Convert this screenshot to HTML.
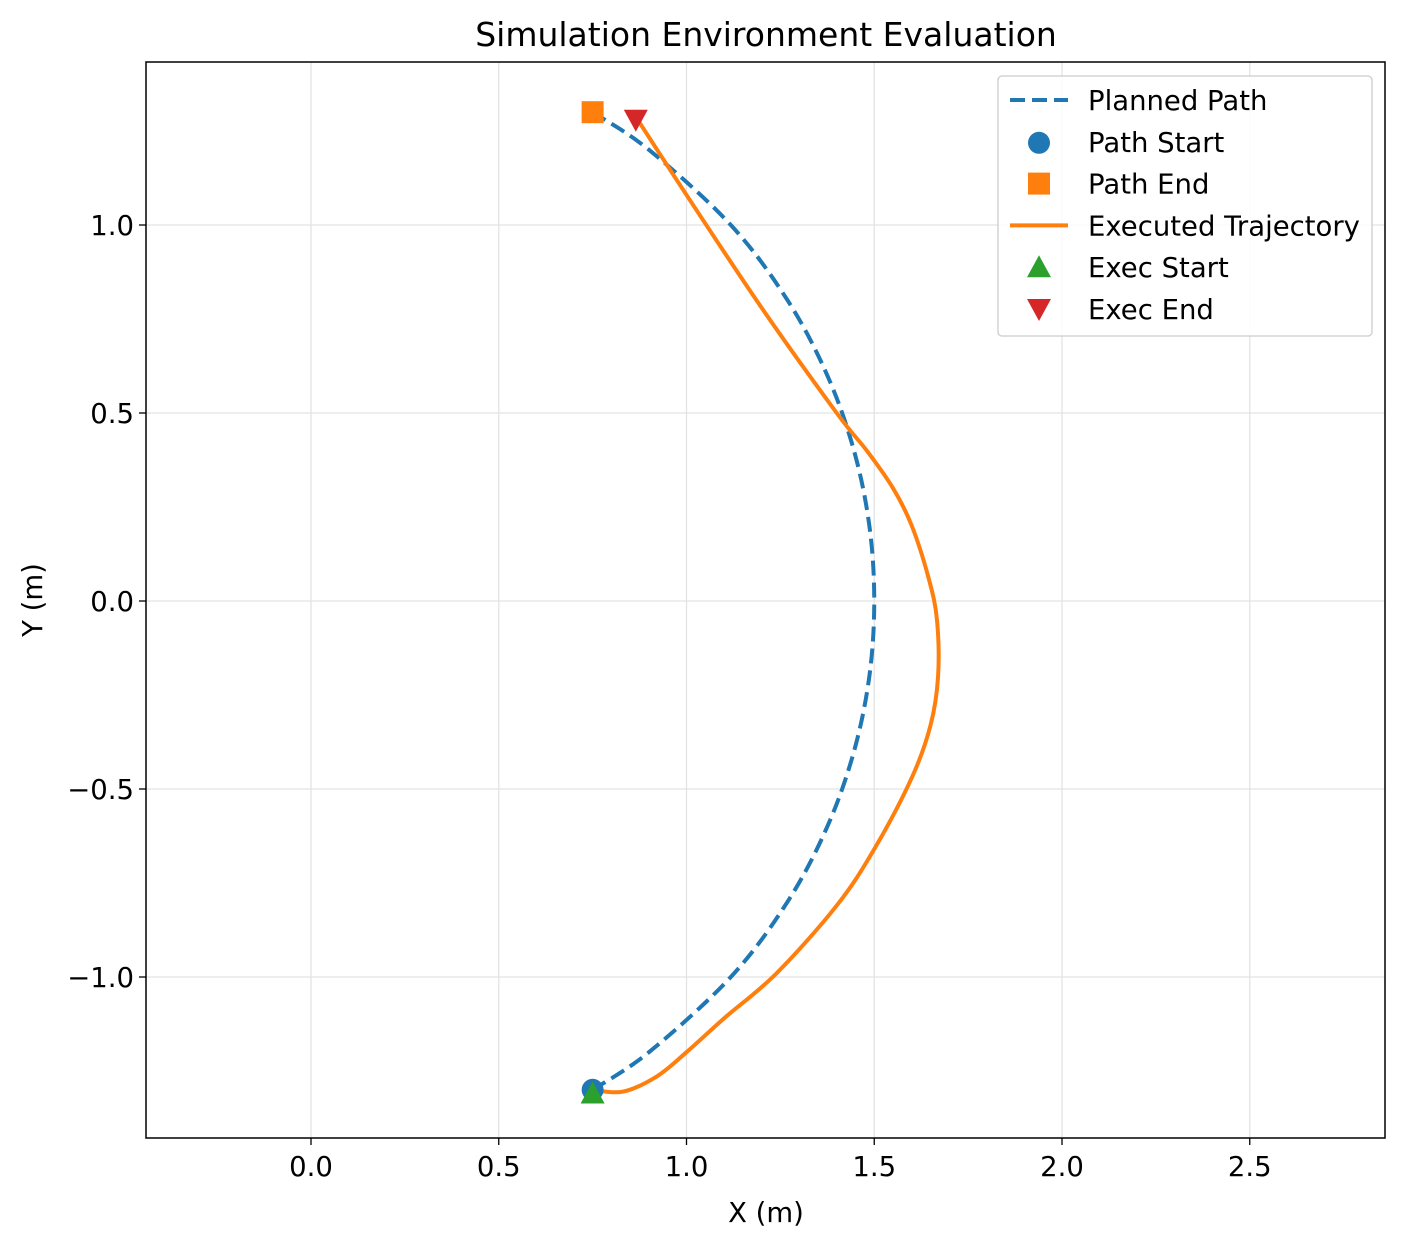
<!DOCTYPE html>
<html><head><meta charset="utf-8"><style>
body{margin:0;background:#fff;}
svg text{font-family:"DejaVu Sans","Liberation Sans",sans-serif;}
</style></head><body>
<svg id="chart" width="1406" height="1247" xmlns="http://www.w3.org/2000/svg"></svg>
<script>
const xTicks=[0,0.5,1.0,1.5,2.0,2.5];
const xTickLabels=["0.0","0.5","1.0","1.5","2.0","2.5"];
const yTicks=[1.0,0.5,0.0,-0.5,-1.0];
const yTickLabels=["1.0","0.5","0.0","\u22120.5","\u22121.0"];
const plannedX=[0.75,0.9,1.118,1.269,1.375,1.446,1.487,1.5,1.487,1.446,1.375,1.269,1.118,0.9,0.75];
const plannedY=[-1.3,-1.2,-1.0,-0.8,-0.6,-0.4,-0.2,0,0.2,0.4,0.6,0.8,1.0,1.2,1.3];
const execX=[0.75,0.83,0.92,1.0,1.1,1.24,1.4,1.5,1.6,1.65,1.67,1.667,1.645,1.6,1.55,1.48,1.4,1.2,1.0,0.87];
const execY=[-1.3,-1.305,-1.265,-1.2,-1.11,-0.99,-0.81,-0.66,-0.47,-0.33,-0.2,-0.05,0.06,0.2,0.3,0.4,0.5,0.78,1.08,1.28];
const pathStart=[0.75,-1.3], pathEnd=[0.75,1.3], execStart=[0.75,-1.31], execEnd=[0.865,1.28];

const L=146,R=1385,T=62,B=1138;
const sx=v=>311+v*375.5, sy=v=>601-v*376;
const svg=document.getElementById('chart');
const NS="http://www.w3.org/2000/svg";
function mk(tag,attrs,name,parent){const e=document.createElementNS(NS,tag);for(const k in attrs)e.setAttribute(k,attrs[k]);


(parent||svg).appendChild(e);return e;}
function txt(s,attrs,name){attrs['font-family']='DejaVu Sans, Liberation Sans, sans-serif';const e=mk('text',attrs,name);e.textContent=s;return e;}
function spline(xs,ys){const p=xs.map((v,i)=>[sx(v),sy(ys[i])]);let d='M'+p[0][0]+' '+p[0][1];
for(let i=0;i<p.length-1;i++){const p0=p[Math.max(0,i-1)],p1=p[i],p2=p[i+1],p3=p[Math.min(p.length-1,i+2)];
d+=` C${p1[0]+(p2[0]-p0[0])/6} ${p1[1]+(p2[1]-p0[1])/6} ${p2[0]-(p3[0]-p1[0])/6} ${p2[1]-(p3[1]-p1[1])/6} ${p2[0]} ${p2[1]}`;}return d;}

txt("Simulation Environment Evaluation",{x:766,y:46,'font-size':33,'text-anchor':'middle'},'chart-title');
xTicks.forEach((v,i)=>{const x=sx(v);
mk('line',{x1:x,x2:x,y1:T,y2:B,stroke:'#e3e3e3','stroke-width':1.3},'x-gridline');
mk('line',{x1:x,x2:x,y1:B,y2:B+7,stroke:'#000','stroke-width':1.3},'x-tick');
txt(xTickLabels[i],{x:x,y:B+38,'font-size':27.5,'text-anchor':'middle'},'x-tick-label');});
yTicks.forEach((v,i)=>{const y=sy(v);
mk('line',{x1:L,x2:R,y1:y,y2:y,stroke:'#e3e3e3','stroke-width':1.3},'y-gridline');
mk('line',{x1:L-7,x2:L,y1:y,y2:y,stroke:'#000','stroke-width':1.3},'y-tick');
txt(yTickLabels[i],{x:L-12,y:y+10,'font-size':27.5,'text-anchor':'end'},'y-tick-label');});
txt("X (m)",{x:766,y:1222,'font-size':27.5,'text-anchor':'middle'},'x-axis-title');
txt("Y (m)",{x:42,y:600,'font-size':27.5,'text-anchor':'middle',transform:'rotate(-90 42 600)'},'y-axis-title');

mk('path',{d:spline(plannedX,plannedY),fill:'none',stroke:'#1f77b4','stroke-width':4,'stroke-dasharray':'15 7'},'planned-path-line');
mk('path',{d:spline(execX,execY),fill:'none',stroke:'#ff7f0e','stroke-width':4,'stroke-linejoin':'round'},'executed-trajectory-line');

function circ(x,y,n){mk('circle',{cx:x,cy:y,r:11,fill:'#1f77b4'},n);}
function sq(x,y,n){mk('rect',{x:x-11,y:y-11,width:22,height:22,fill:'#ff7f0e'},n);}
function up(x,y,n){mk('polygon',{points:`${x},${y-12} ${x+12},${y+10} ${x-12},${y+10}`,fill:'#2ca02c'},n);}
function dn(x,y,n){mk('polygon',{points:`${x},${y+12} ${x+12},${y-10} ${x-12},${y-10}`,fill:'#d62728'},n);}
circ(sx(pathStart[0]),sy(pathStart[1]),'path-start-marker');
sq(sx(pathEnd[0]),sy(pathEnd[1]),'path-end-marker');
up(sx(execStart[0]),sy(execStart[1]),'exec-start-marker');
dn(sx(execEnd[0]),sy(execEnd[1]),'exec-end-marker');

mk('rect',{x:L,y:T,width:R-L,height:B-T,fill:'none',stroke:'#000','stroke-width':1.5},'plot-frame');

mk('rect',{x:998,y:76,width:374,height:260,rx:4,fill:'#fff','fill-opacity':0.85,stroke:'#ccc','stroke-width':1.3},'legend-box');
const items=["Planned Path","Path Start","Path End","Executed Trajectory","Exec Start","Exec End"];
items.forEach((s,i)=>{const y=100+i*41.8;
if(i==0)mk('line',{x1:1010,x2:1068,y1:y,y2:y,stroke:'#1f77b4','stroke-width':4,'stroke-dasharray':'15 7'},'legend-symbol');
if(i==1)circ(1039,y+1,'legend-symbol');
if(i==2)sq(1039,y,'legend-symbol');
if(i==3)mk('line',{x1:1010,x2:1068,y1:y,y2:y,stroke:'#ff7f0e','stroke-width':4},'legend-symbol');
if(i==4)up(1039,y,'legend-symbol');
if(i==5)dn(1039,y,'legend-symbol');
txt(s,{x:1088,y:y+10,'font-size':27.5},'legend-entry');});
</script>
</body></html>
